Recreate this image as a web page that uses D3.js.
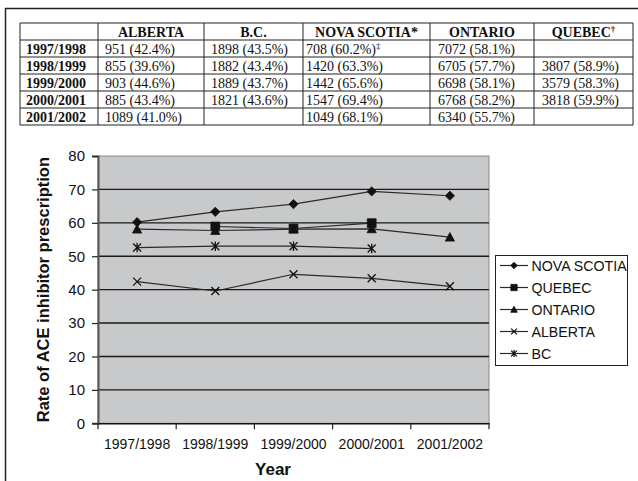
<!DOCTYPE html>
<html>
<head>
<meta charset="utf-8">
<script src="https://cdn.jsdelivr.net/npm/d3@7/dist/d3.min.js"></script>
<style>
  html, body { margin: 0; padding: 0; background: #fff; }
  svg { display: block; }
</style>
</head>
<body>
<svg id="fig" width="638" height="481"></svg>
<script>
// ---- Table data (counts and rates by province and fiscal year) ----
const years = ["1997/1998", "1998/1999", "1999/2000", "2000/2001", "2001/2002"];
const tableHeaders = ["", "ALBERTA", "B.C.", "NOVA SCOTIA*", "ONTARIO", "QUEBEC"];
const headerNotes = ["", "", "", "", "", "\u2020"];
const albertaCells = ["951 (42.4%)", "855 (39.6%)", "903 (44.6%)", "885 (43.4%)", "1089 (41.0%)"];
const bcCells = ["1898 (43.5%)", "1882 (43.4%)", "1889 (43.7%)", "1821 (43.6%)", ""];
const novaScotiaCells = ["708 (60.2%)", "1420 (63.3%)", "1442 (65.6%)", "1547 (69.4%)", "1049 (68.1%)"];
const novaScotiaNotes = ["\u2021", "", "", "", ""];
const ontarioCells = ["7072 (58.1%)", "6705 (57.7%)", "6698 (58.1%)", "6768 (58.2%)", "6340 (55.7%)"];
const quebecCells = ["", "3807 (58.9%)", "3579 (58.3%)", "3818 (59.9%)", ""];

// ---- Chart series (rate of ACE inhibitor prescription, %) ----
const seriesNames = ["NOVA SCOTIA", "QUEBEC", "ONTARIO", "ALBERTA", "BC"];
const novaScotia = [60.2, 63.3, 65.6, 69.4, 68.1];
const quebec = [null, 58.9, 58.3, 59.9, null];
const ontario = [58.1, 57.7, 58.1, 58.2, 55.7];
const alberta = [42.4, 39.6, 44.6, 43.4, 41.0];
const bc = [52.6, 53.0, 53.0, 52.3, null];
const yTicks = [0, 10, 20, 30, 40, 50, 60, 70, 80];

const svg = d3.select("#fig");

// outer frame (top and left rules)
svg.append("path")
  .attr("d", "M5.5,481 V8.5 H638")
  .attr("fill", "none").attr("stroke", "#222").attr("stroke-width", 1.5);

// ---------------- Table ----------------
const colEdges = [20, 98, 204, 303, 430, 534, 633];
const colPad = [6, 7, 7, 3, 8, 8];
const tableTop = 23, rowH = 17;
const columns = [years, albertaCells, bcCells, novaScotiaCells, ontarioCells, quebecCells];
const colNotes = [null, null, null, novaScotiaNotes, null, null];

const table = svg.append("g").attr("font-family", "'Liberation Serif', 'Times New Roman', serif")
  .attr("font-size", 14).attr("fill", "#111");

const nRows = years.length + 1;
// grid lines
for (let r = 0; r <= nRows; r++) {
  table.append("line")
    .attr("x1", colEdges[0]).attr("x2", colEdges[colEdges.length - 1])
    .attr("y1", tableTop + r * rowH).attr("y2", tableTop + r * rowH)
    .attr("stroke", "#222").attr("stroke-width", 1);
}
colEdges.forEach(x => {
  table.append("line")
    .attr("x1", x).attr("x2", x)
    .attr("y1", tableTop).attr("y2", tableTop + nRows * rowH)
    .attr("stroke", "#222").attr("stroke-width", 1);
});

// header row
tableHeaders.forEach((h, i) => {
  if (!h) return;
  const t = table.append("text")
    .attr("x", (colEdges[i] + colEdges[i + 1]) / 2)
    .attr("y", tableTop + rowH - 3)
    .attr("text-anchor", "middle").attr("font-weight", "bold").text(h);
  if (headerNotes[i]) {
    t.append("tspan").attr("font-size", 9).attr("dy", -5).text(headerNotes[i]);
  }
});

// body rows
columns.forEach((col, c) => {
  col.forEach((v, r) => {
    if (!v) return;
    const t = table.append("text")
      .attr("x", colEdges[c] + colPad[c])
      .attr("y", tableTop + (r + 2) * rowH - 3)
      .attr("font-weight", c === 0 ? "bold" : "normal")
      .text(v);
    if (colNotes[c] && colNotes[c][r]) {
      t.append("tspan").attr("font-size", 9).attr("dy", -5).text(colNotes[c][r]);
    }
  });
});

// ---------------- Chart ----------------
const plot = { left: 98, right: 489, top: 156, bottom: 423.3 };

const x = d3.scaleBand().domain(years).range([plot.left, plot.right]).padding(0);
const y = d3.scaleLinear().domain([0, 80]).range([plot.bottom, plot.top]);

const chart = svg.append("g").attr("font-family", "'Liberation Sans', Arial, sans-serif");

// plot background
chart.append("rect")
  .attr("x", plot.left).attr("y", plot.top)
  .attr("width", plot.right - plot.left).attr("height", plot.bottom - plot.top)
  .attr("fill", "#c8c9cb").attr("stroke", "#8a8a8a").attr("stroke-width", 1);

// horizontal gridlines
chart.append("g").selectAll("line")
  .data(yTicks.filter(d => d > 0 && d < 80))
  .join("line")
  .attr("x1", plot.left).attr("x2", plot.right)
  .attr("y1", d => y(d)).attr("y2", d => y(d))
  .attr("stroke", "#1a1a1a").attr("stroke-width", 1.4);

// y axis
const yAxis = chart.append("g")
  .attr("transform", `translate(${plot.left},0)`)
  .call(d3.axisLeft(y).tickValues(yTicks).tickSize(6).tickPadding(7));
yAxis.select(".domain").attr("stroke", "#555").attr("stroke-width", 2);
yAxis.selectAll(".tick line").attr("stroke", "#222").attr("stroke-width", 1.2);
yAxis.selectAll(".tick text")
  .attr("font-size", 15).attr("fill", "#111")
  .attr("font-family", "'Liberation Sans', Arial, sans-serif");

// x axis: labels centred on bands, ticks at band edges
const xAxis = chart.append("g")
  .attr("transform", `translate(0,${plot.bottom})`)
  .call(d3.axisBottom(x).tickSize(0).tickPadding(15.5));
xAxis.select(".domain").attr("stroke", "#111").attr("stroke-width", 1.5);
xAxis.selectAll(".tick text")
  .attr("font-size", 14).attr("fill", "#111")
  .attr("font-family", "'Liberation Sans', Arial, sans-serif");
const edges = years.map(d => x(d)).concat([x(years[years.length - 1]) + x.bandwidth()]);
xAxis.selectAll("line.edge").data(edges).join("line")
  .attr("class", "edge")
  .attr("x1", d => d).attr("x2", d => d)
  .attr("y1", 0).attr("y2", 6)
  .attr("stroke", "#222").attr("stroke-width", 1.2);

// axis titles
chart.append("text")
  .attr("transform", `translate(48.5,${(plot.top + plot.bottom) / 2}) rotate(-90)`)
  .attr("text-anchor", "middle").attr("font-weight", "bold").attr("font-size", 16.5)
  .attr("fill", "#111")
  .text("Rate of ACE inhibitor prescription");
chart.append("text")
  .attr("x", 273).attr("y", 475)
  .attr("text-anchor", "middle").attr("font-weight", "bold").attr("font-size", 17)
  .attr("fill", "#111")
  .text("Year");

// marker shapes
const markerPath = {
  diamond: s => `M0,${-s}L${s},0L0,${s}L${-s},0Z`,
  square: s => `M${-s},${-s}H${s}V${s}H${-s}Z`,
  triangle: s => `M0,${-s}L${s},${s * 0.85}H${-s}Z`,
  cross: s => `M${-s},${-s}L${s},${s}M${-s},${s}L${s},${-s}`,
  star: s => `M${-s},${-s}L${s},${s}M${-s},${s}L${s},${-s}M0,${-s * 1.2}V${s * 1.2}`
};
const series = [
  { name: seriesNames[0], values: novaScotia, shape: "diamond", size: 4.6, filled: true },
  { name: seriesNames[1], values: quebec, shape: "square", size: 4.4, filled: true },
  { name: seriesNames[2], values: ontario, shape: "triangle", size: 4.6, filled: true },
  { name: seriesNames[3], values: alberta, shape: "cross", size: 4, filled: false },
  { name: seriesNames[4], values: bc, shape: "star", size: 4, filled: false }
];

const line = d3.line()
  .defined(d => d.v != null)
  .x(d => x(d.year) + x.bandwidth() / 2)
  .y(d => y(d.v));

function drawMarker(g, shape, size, filled) {
  g.append("path")
    .attr("d", markerPath[shape](size))
    .attr("fill", filled ? "#111" : "none")
    .attr("stroke", "#111")
    .attr("stroke-width", filled ? 0.8 : 1.3);
}

series.forEach(s => {
  const pts = years.map((yr, i) => ({ year: yr, v: s.values[i] }));
  chart.append("path")
    .datum(pts)
    .attr("d", line)
    .attr("fill", "none").attr("stroke", "#2a2a2a").attr("stroke-width", 1.2);
  pts.filter(p => p.v != null).forEach(p => {
    const g = chart.append("g")
      .attr("transform", `translate(${x(p.year) + x.bandwidth() / 2},${y(p.v)})`);
    drawMarker(g, s.shape, s.size, s.filled);
  });
});

// legend
const legend = chart.append("g");
legend.append("rect")
  .attr("x", 495.5).attr("y", 255.5).attr("width", 132).attr("height", 110)
  .attr("fill", "#fff").attr("stroke", "#222").attr("stroke-width", 1);
series.forEach((s, i) => {
  const cy = 265.5 + i * 22;
  const g = legend.append("g");
  g.append("line").attr("x1", 500).attr("x2", 528).attr("y1", cy).attr("y2", cy)
    .attr("stroke", "#2a2a2a").attr("stroke-width", 1.2);
  const m = g.append("g").attr("transform", `translate(514,${cy})`);
  drawMarker(m, s.shape, s.size * 0.72, s.filled);
  g.append("text").attr("x", 531.5).attr("y", cy + 5.5)
    .attr("font-size", 14.2).attr("fill", "#111").text(s.name);
});
</script>
</body>
</html>
